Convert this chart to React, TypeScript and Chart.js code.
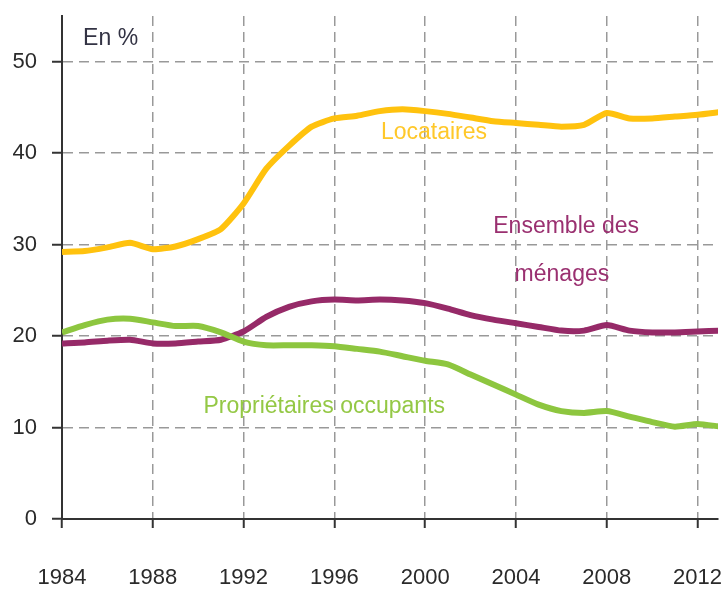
import React, { useEffect, useRef } from "react";
import { Chart, registerables } from "chart.js";

Chart.register(...registerables);

const years = [
  1984, 1985, 1986, 1987, 1988, 1989, 1990, 1991, 1992, 1993,
  1994, 1995, 1996, 1997, 1998, 1999, 2000, 2001, 2002, 2003,
  2004, 2005, 2006, 2007, 2008, 2009, 2010, 2011, 2012, 2013,
];

const locataires = [
  29.2, 29.3, 29.7, 30.2, 29.5, 29.8, 30.6, 31.7, 34.5, 38.3,
  40.8, 42.9, 43.8, 44.1, 44.6, 44.8, 44.6, 44.3, 43.9, 43.5,
  43.3, 43.1, 42.9, 43.1, 44.4, 43.8, 43.8, 44.0, 44.2, 44.5,
];

const ensemble = [
  19.2, 19.3, 19.5, 19.6, 19.2, 19.2, 19.4, 19.6, 20.5, 22.1,
  23.2, 23.8, 24.0, 23.9, 24.0, 23.9, 23.6, 23.0, 22.3, 21.8,
  21.4, 21.0, 20.6, 20.6, 21.2, 20.6, 20.4, 20.4, 20.5, 20.6,
];

const proprietaires = [
  20.4, 21.2, 21.8, 21.9, 21.5, 21.1, 21.1, 20.4, 19.4, 19.0,
  19.0, 19.0, 18.9, 18.6, 18.3, 17.8, 17.3, 16.9, 15.8, 14.7,
  13.6, 12.5, 11.8, 11.6, 11.8, 11.2, 10.6, 10.1, 10.4, 10.1,
];

const xTicks = [1984, 1988, 1992, 1996, 2000, 2004, 2008, 2012];
const yTicks = [0, 10, 20, 30, 40, 50];

const seriesNames = ["Locataires", "Propriétaires occupants", "Ensemble des ménages"];
const seriesColors = ["#FFC20E", "#8DC63F", "#962A68"];

const textLabels = [
  { text: "En %", x: 1984.93, y: 51.8, color: "#333344" },
  { text: "Locataires", x: 1998.05, y: 41.55, color: "#FFC82A" },
  { text: "Ensemble des", x: 2003.0, y: 31.27, color: "#9A3070" },
  { text: "ménages", x: 2003.94, y: 26.0, color: "#9A3070" },
  { text: "Propriétaires occupants", x: 1990.23, y: 11.6, color: "#94C845" },
];

const FONT = "'Liberation Sans', Arial, sans-serif";
const tickFont = { family: FONT, size: 22 };

export default function App() {
  const ref = useRef<HTMLCanvasElement | null>(null);

  useEffect(() => {
    if (!ref.current) return;
    const toPoints = (arr: number[]) => years.map((yr, i) => ({ x: yr, y: arr[i] }));
    const seriesData = [locataires, proprietaires, ensemble];

    const labelPlugin = {
      id: "textLabels",
      afterDatasetsDraw(chart: any) {
        const { ctx, scales } = chart;
        const xs = scales.x;
        const ys = scales.y;
        ctx.save();
        ctx.font = `23px ${FONT}`;
        ctx.textAlign = "left";
        ctx.textBaseline = "alphabetic";
        for (const l of textLabels) {
          ctx.fillStyle = l.color;
          ctx.fillText(l.text, xs.getPixelForValue(l.x), ys.getPixelForValue(l.y));
        }
        ctx.restore();
      },
    };

    const chart = new Chart(ref.current, {
      type: "line",
      data: {
        datasets: seriesData.map((arr, i) => ({
          label: seriesNames[i],
          data: toPoints(arr),
          borderColor: seriesColors[i],
          backgroundColor: seriesColors[i],
          borderWidth: 6,
          pointRadius: 0,
          tension: 0.2,
          fill: false,
        })),
      },
      options: {
        animation: false,
        responsive: false,
        layout: { padding: { top: 16, right: 3, left: 0, bottom: 0 } },
        plugins: {
          legend: { display: false },
          tooltip: { enabled: false },
        },
        scales: {
          x: {
            type: "linear",
            min: 1984,
            max: 2012.9,
            afterBuildTicks: (s: any) => {
              s.ticks = xTicks.map((v) => ({ value: v }));
            },
            afterFit: (s: any) => {
              s.height = 71;
              s.paddingLeft = 0;
              s.paddingRight = 0;
            },
            ticks: {
              autoSkip: false,
              maxRotation: 0,
              padding: 37,
              color: "#2a2a2a",
              font: tickFont,
              callback: (v: any) => String(v),
            },
            grid: {
              color: "#999",
              lineWidth: 1.5,
              tickLength: 9,
              tickColor: "#333",
              tickWidth: 2,
              tickBorderDash: [],
            },
            border: { display: true, color: "#333", width: 2, dash: [10, 6] },
          },
          y: {
            type: "linear",
            min: 0,
            max: 55,
            afterBuildTicks: (s: any) => {
              s.ticks = yTicks.map((v) => ({ value: v }));
            },
            afterFit: (s: any) => {
              s.width = 62;
              s.paddingTop = 0;
              s.paddingBottom = 0;
            },
            ticks: {
              padding: 15,
              color: "#2a2a2a",
              font: tickFont,
              callback: (v: any) => String(v),
            },
            grid: {
              color: "#999",
              lineWidth: 1.5,
              tickLength: 10,
              tickColor: "#333",
              tickWidth: 2,
              tickBorderDash: [],
            },
            border: { display: true, color: "#333", width: 2, dash: [10, 6] },
          },
        },
      },
      plugins: [labelPlugin],
    } as any);

    return () => chart.destroy();
  }, []);

  return (
    <div style={{ position: "absolute", left: 0, top: 0, width: 721, height: 590, background: "#fff" }}>
      <canvas ref={ref} width={721} height={590} />
    </div>
  );
}
